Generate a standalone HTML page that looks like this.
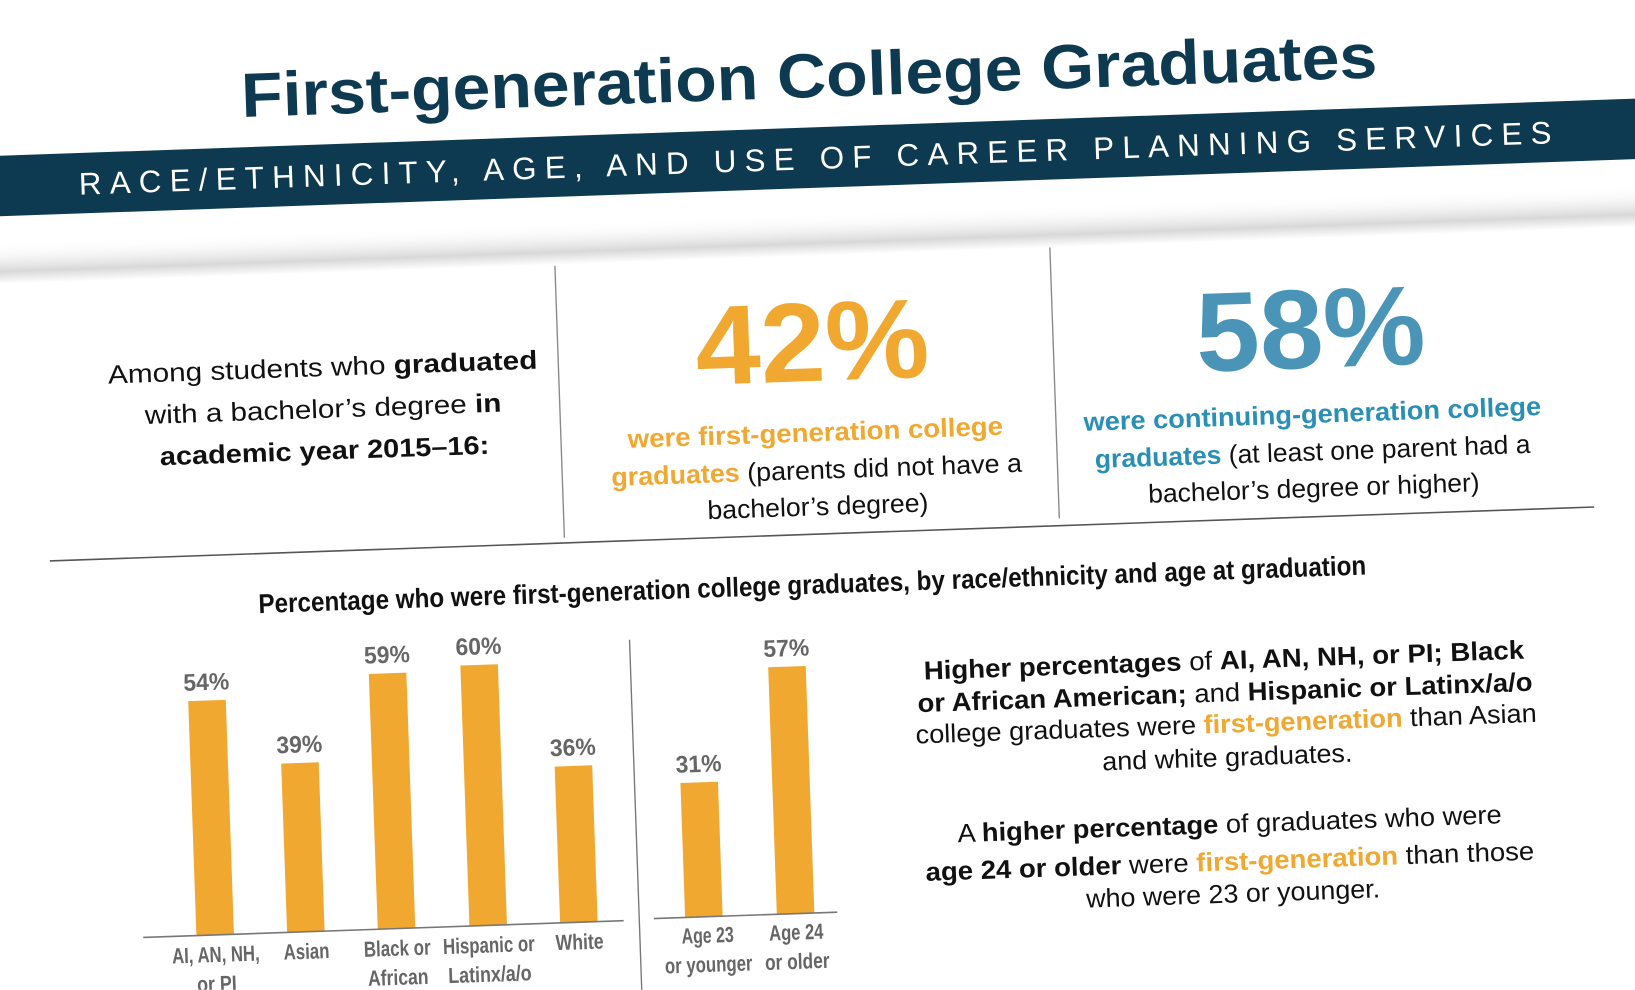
<!DOCTYPE html>
<html><head><meta charset="utf-8"><style>
html,body{margin:0;padding:0;background:#fff;width:1635px;height:990px;overflow:hidden}
svg{display:block}
text{font-family:"Liberation Sans",sans-serif}
.b{font-weight:bold}
</style></head><body>
<svg width="1635" height="990" viewBox="0 0 1568 949" xmlns="http://www.w3.org/2000/svg" overflow="hidden">
<defs>
<linearGradient id="sh" x1="0" y1="0" x2="0" y2="1">
<stop offset="0" stop-color="#fff" stop-opacity="0"/>
<stop offset="0.7" stop-color="#d8d8d8"/>
<stop offset="1" stop-color="#fff"/>
</linearGradient>
<clipPath id="cp"><rect x="0" y="0" width="1568" height="949"/></clipPath>
</defs>
<rect width="1568" height="949" fill="#fff"/>
<g clip-path="url(#cp)">
<g transform="rotate(-2 784 475)">
<rect x="-100" y="205" width="1800" height="40" fill="url(#sh)"/>
<text x="790" y="93" text-anchor="middle" font-size="60" class="b" fill="#0d3a50" textLength="1090" lengthAdjust="spacingAndGlyphs">First-generation College Graduates</text>
<rect x="-100" y="122" width="1800" height="58" fill="#0d3a50"/>
<text x="793" y="162" text-anchor="middle" font-size="30" fill="#fff" textLength="1413" lengthAdjust="spacing">RACE/ETHNICITY, AGE, AND USE OF CAREER PLANNING SERVICES</text>

<line x1="540" y1="246" x2="540" y2="507" stroke="#888" stroke-width="1.3"/>
<line x1="1015" y1="245" x2="1015" y2="505" stroke="#888" stroke-width="1.3"/>
<line x1="46" y1="512" x2="1528" y2="512" stroke="#555" stroke-width="1.5"/>

<g font-size="25" fill="#111" text-anchor="middle">
<text x="314" y="344" textLength="412" lengthAdjust="spacingAndGlyphs">Among students who <tspan class="b">graduated</tspan></text>
<text x="313" y="384" textLength="342" lengthAdjust="spacingAndGlyphs">with a bachelor’s degree <tspan class="b">in</tspan></text>
<text x="313" y="424" class="b" textLength="316" lengthAdjust="spacingAndGlyphs">academic year 2015–16:</text>
</g>

<text x="784" y="365" text-anchor="middle" font-size="108" class="b" fill="#f0a830" textLength="224" lengthAdjust="spacingAndGlyphs">42%</text>
<text x="1262" y="369" text-anchor="middle" font-size="108" class="b" fill="#4a94b8" textLength="220" lengthAdjust="spacingAndGlyphs">58%</text>

<g font-size="25" fill="#111" text-anchor="middle">
<text x="784" y="423" class="b" fill="#f0a830" textLength="360" lengthAdjust="spacingAndGlyphs">were first-generation college</text>
<text x="784" y="459" textLength="394" lengthAdjust="spacingAndGlyphs"><tspan class="b" fill="#f0a830">graduates</tspan> (parents did not have a</text>
<text x="784" y="494" textLength="212" lengthAdjust="spacingAndGlyphs">bachelor’s degree)</text>
<text x="1261" y="422" class="b" fill="#2a8fb5" textLength="439" lengthAdjust="spacingAndGlyphs">were continuing-generation college</text>
<text x="1260" y="458" textLength="418" lengthAdjust="spacingAndGlyphs"><tspan class="b" fill="#2a8fb5">graduates</tspan> (at least one parent had a</text>
<text x="1260" y="493" textLength="318" lengthAdjust="spacingAndGlyphs">bachelor’s degree or higher)</text>
</g>

<text x="776" y="569" text-anchor="middle" font-size="26" class="b" fill="#111" textLength="1063" lengthAdjust="spacingAndGlyphs">Percentage who were first-generation college graduates, by race/ethnicity and age at graduation</text>

<g fill="#f0a830">
<rect x="174" y="651" width="36" height="225"/>
<rect x="261" y="714" width="36" height="162"/>
<rect x="348" y="631" width="36" height="245"/>
<rect x="436" y="626" width="36" height="250"/>
<rect x="523" y="726" width="36" height="150"/>
<rect x="643" y="746" width="36" height="129"/>
<rect x="731" y="638" width="36" height="237"/>
</g>
<line x1="123" y1="876" x2="584" y2="876" stroke="#777" stroke-width="1.5"/>
<line x1="613" y1="875" x2="789" y2="875" stroke="#777" stroke-width="1.5"/>
<line x1="599" y1="607" x2="599" y2="970" stroke="#777" stroke-width="1.3"/>

<g font-size="23" class="b" fill="#666" text-anchor="middle">
<text x="192" y="641" textLength="44" lengthAdjust="spacingAndGlyphs">54%</text>
<text x="279" y="704" textLength="44" lengthAdjust="spacingAndGlyphs">39%</text>
<text x="366" y="621" textLength="44" lengthAdjust="spacingAndGlyphs">59%</text>
<text x="454" y="616" textLength="44" lengthAdjust="spacingAndGlyphs">60%</text>
<text x="541" y="716" textLength="44" lengthAdjust="spacingAndGlyphs">36%</text>
<text x="661" y="736" textLength="44" lengthAdjust="spacingAndGlyphs">31%</text>
<text x="749" y="628" textLength="44" lengthAdjust="spacingAndGlyphs">57%</text>
</g>
<g font-size="21" class="b" fill="#666" text-anchor="middle">
<text x="192" y="902" textLength="84" lengthAdjust="spacingAndGlyphs">AI, AN, NH,</text>
<text x="192" y="930" textLength="38" lengthAdjust="spacingAndGlyphs">or PI</text>
<text x="279" y="902" textLength="44" lengthAdjust="spacingAndGlyphs">Asian</text>
<text x="366" y="902" textLength="64" lengthAdjust="spacingAndGlyphs">Black or</text>
<text x="366" y="930" textLength="58" lengthAdjust="spacingAndGlyphs">African</text>
<text x="366" y="958" textLength="70" lengthAdjust="spacingAndGlyphs">American</text>
<text x="454" y="902" textLength="88" lengthAdjust="spacingAndGlyphs">Hispanic or</text>
<text x="454" y="930" textLength="80" lengthAdjust="spacingAndGlyphs">Latinx/a/o</text>
<text x="541" y="902" textLength="46" lengthAdjust="spacingAndGlyphs">White</text>
<text x="664" y="900" textLength="50" lengthAdjust="spacingAndGlyphs">Age 23</text>
<text x="664" y="928" textLength="84" lengthAdjust="spacingAndGlyphs">or younger</text>
<text x="749" y="900" textLength="52" lengthAdjust="spacingAndGlyphs">Age 24</text>
<text x="749" y="928" textLength="62" lengthAdjust="spacingAndGlyphs">or older</text>
</g>

<g font-size="25" fill="#111" text-anchor="middle">
<text x="1168" y="655" textLength="576" lengthAdjust="spacingAndGlyphs"><tspan class="b">Higher percentages</tspan> of <tspan class="b">AI, AN, NH, or PI; Black</tspan></text>
<text x="1168" y="686" textLength="590" lengthAdjust="spacingAndGlyphs"><tspan class="b">or African American;</tspan> and <tspan class="b">Hispanic or Latinx/a/o</tspan></text>
<text x="1168" y="716" textLength="596" lengthAdjust="spacingAndGlyphs">college graduates were <tspan class="b" fill="#f0a830">first-generation</tspan> than Asian</text>
<text x="1168" y="748" textLength="240" lengthAdjust="spacingAndGlyphs">and white graduates.</text>
<text x="1168" y="812" textLength="522" lengthAdjust="spacingAndGlyphs">A <tspan class="b">higher percentage</tspan> of graduates who were</text>
<text x="1167" y="848" textLength="584" lengthAdjust="spacingAndGlyphs"><tspan class="b">age 24 or older</tspan> were <tspan class="b" fill="#f0a830">first-generation</tspan> than those</text>
<text x="1169" y="879" textLength="282" lengthAdjust="spacingAndGlyphs">who were 23 or younger.</text>
</g>
</g>
</g>
</svg>
</body></html>
